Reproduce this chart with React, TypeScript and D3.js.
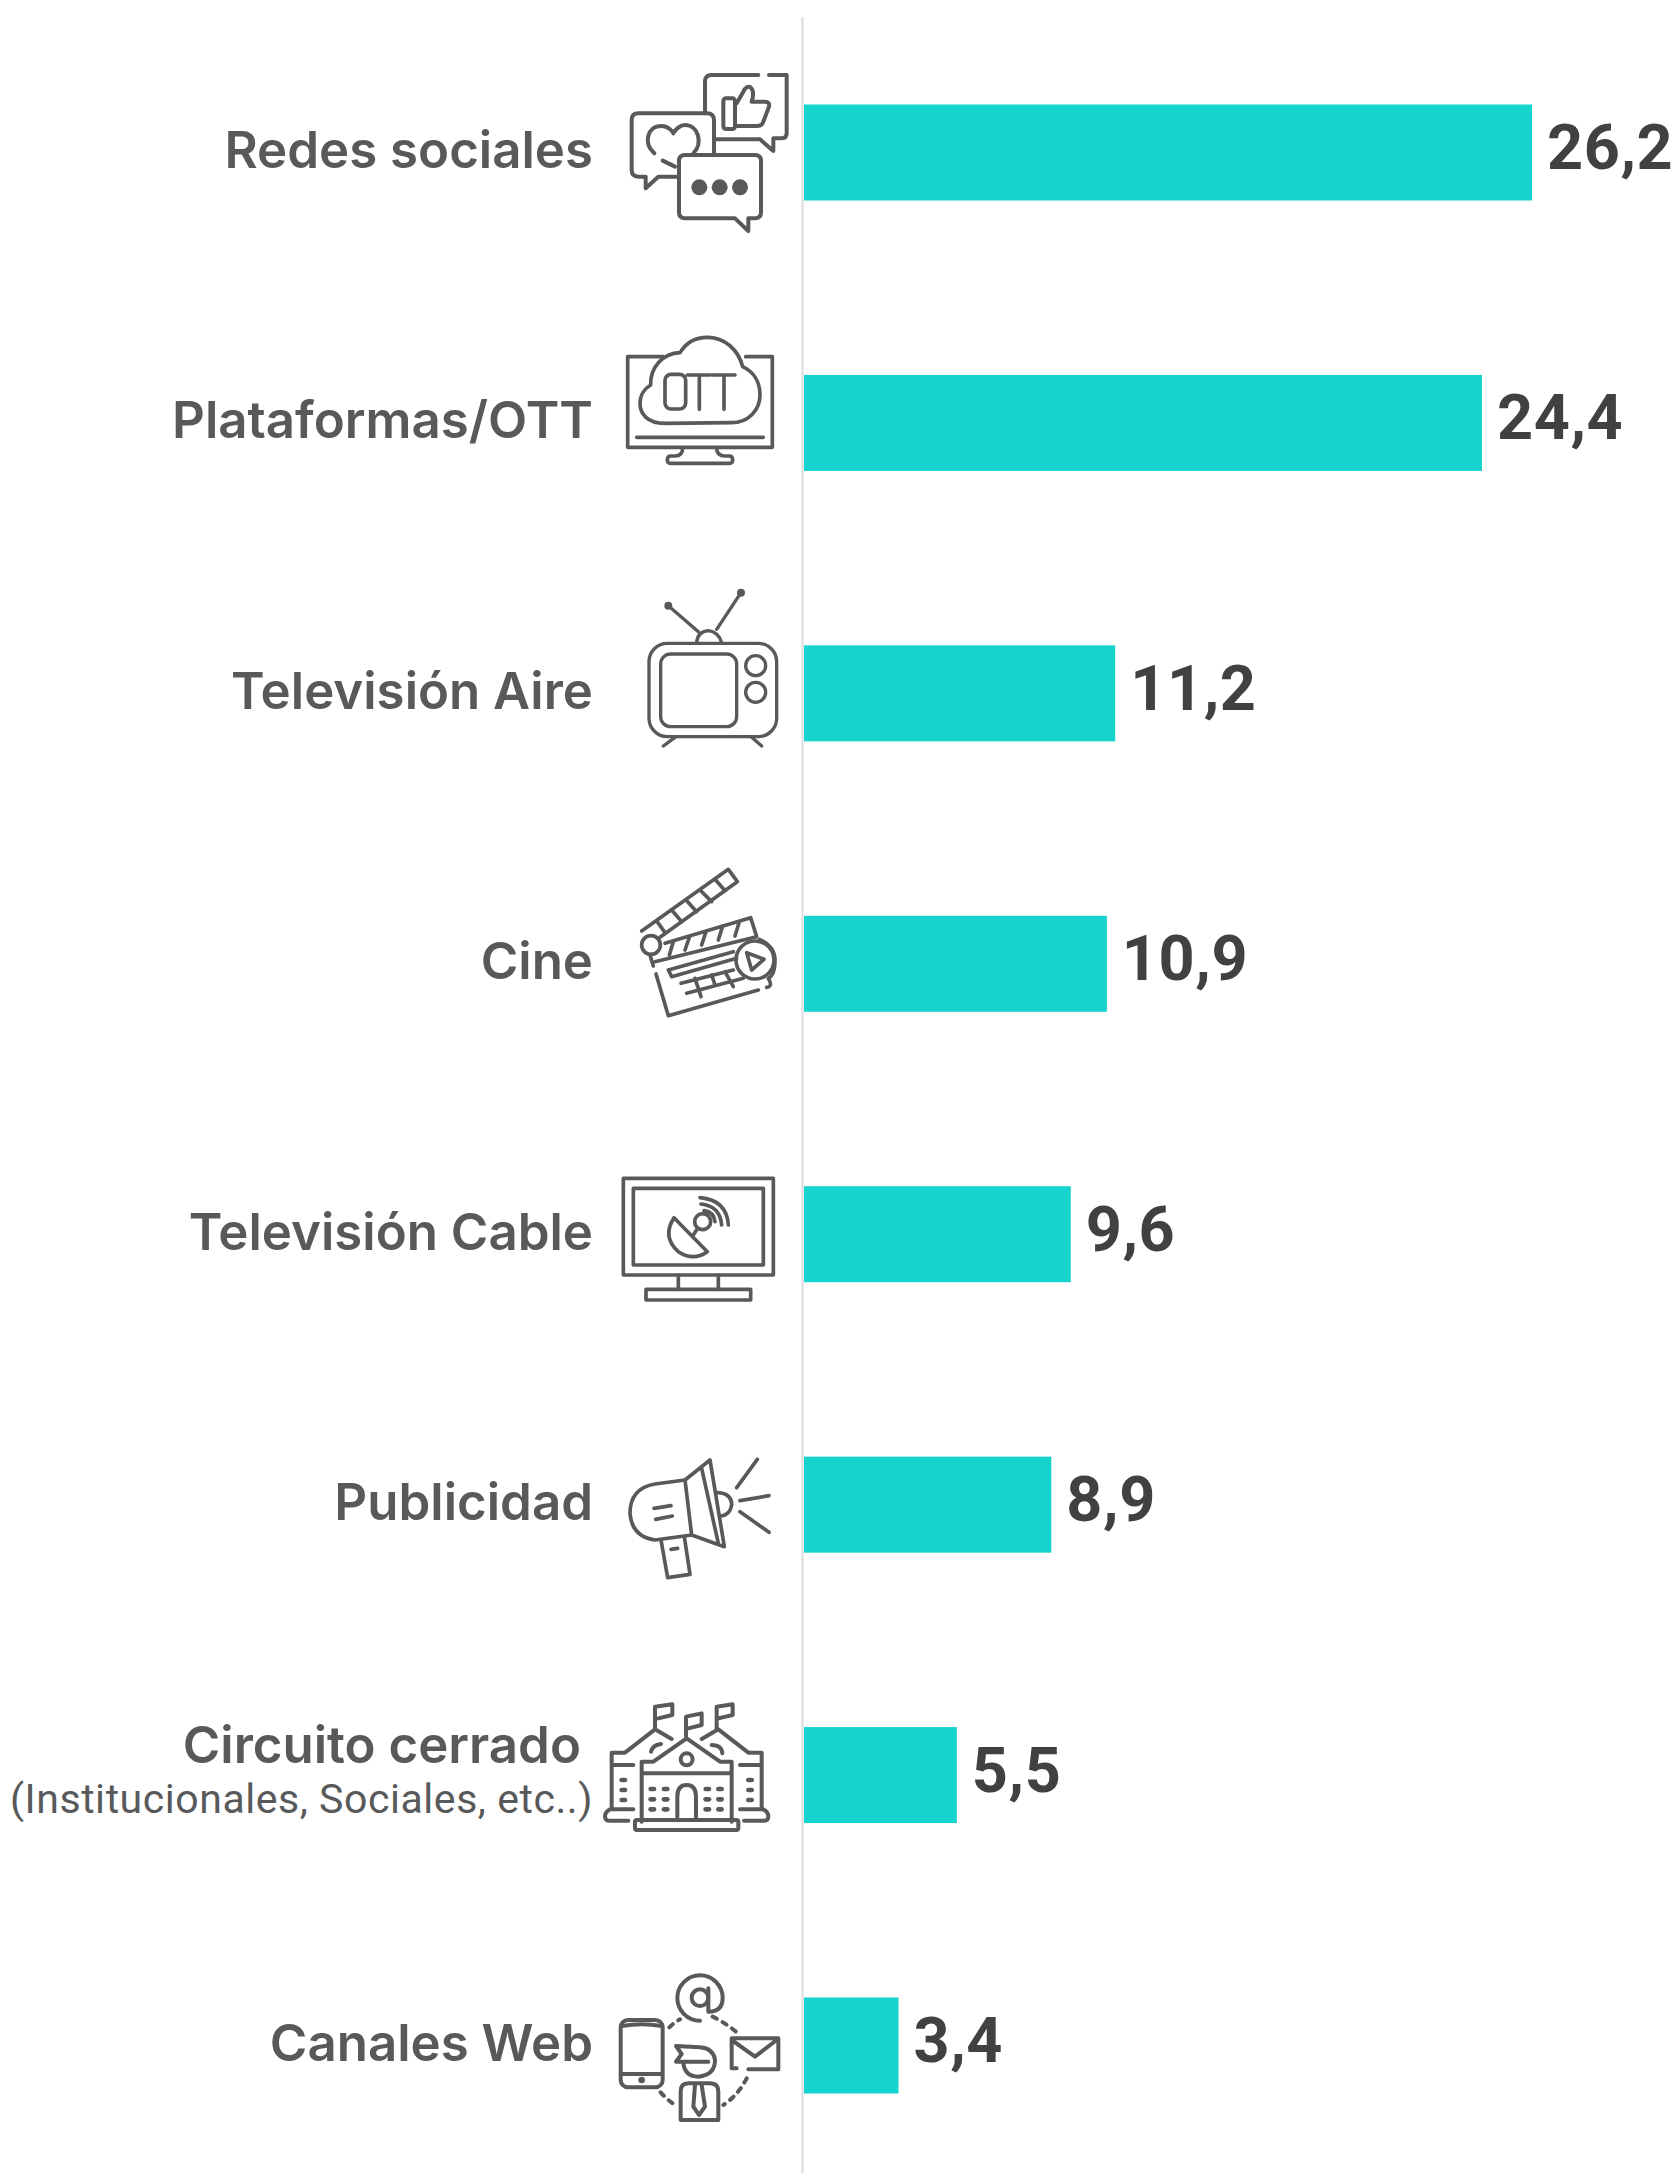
import React from 'react';
import * as d3 from 'd3';

const categories = ['Redes sociales', 'Plataformas/OTT', 'Televisión Aire', 'Cine', 'Televisión Cable', 'Publicidad', 'Circuito cerrado', 'Canales Web'];
const values = [26.2, 24.4, 11.2, 10.9, 9.6, 8.9, 5.5, 3.4];
const subLabels: Record<string, string> = { 'Circuito cerrado': '(Institucionales, Sociales, etc..)' };

const WIDTH = 1678;
const HEIGHT = 2173;
const GRAY = '#58595b';

const x = d3.scaleLinear().domain([0, 26.2]).range([804, 1532]);
const y = d3.scaleBand().domain(categories).range([104.5, 2093.5]).paddingInner(0.645).paddingOuter(0);
const fmt = d3.formatLocale({ decimal: ',', thousands: '.', grouping: [3], currency: ['', ''] }).format('.1f');

// icons are traced in 3x coordinates, so they get scaled down by the group
const Icon = ({ ox, oy, sw, children }: any) => (
  <g transform={`translate(${ox},${oy}) scale(${1 / 3})`} fill="none" stroke={GRAY} strokeWidth={sw} strokeLinecap="round" strokeLinejoin="round">
    {children}
  </g>
);

const SocialIcon = () => (
  <Icon ox={600} oy={50} sw={12}>
    <path d="M475 75H335Q315 75 315 95V190M507 75H560V250Q560 265 545 265H520V303L480 268H345" />
    <path d="M342 310V210Q342 190 320 190H115Q95 190 95 210V360Q95 380 115 380H137V415L175 380H235" />
    <path d="M255 315H465Q483 315 483 333V487Q483 505 465 505H445V543L405 505H255Q237 505 237 487V333Q237 315 255 315Z" />
    <circle cx={298} cy={412} r={24} fill={GRAY} stroke="none" />
    <circle cx={359} cy={412} r={24} fill={GRAY} stroke="none" />
    <circle cx={420} cy={412} r={24} fill={GRAY} stroke="none" />
    <path d="M163 310C130 280 140 228 185 228C205 228 218 245 220 250C225 240 240 225 255 225C295 225 310 280 280 310M188 332L225 350" />
    <rect x={370} y={145} width={35} height={92} rx={8} />
    <path d="M410 160L430 125Q440 105 452 112Q465 125 455 155H495Q510 155 507 170L490 215Q487 228 470 228H410" />
  </Icon>
);

const OttIcon = () => (
  <Icon ox={600} oy={320} sw={11}>
    <path d="M190 110H83V382H517V110H437M110 352H490" />
    <path d="M248 385Q248 408 225 408H212Q202 408 202 420Q202 430 212 430H388Q398 430 398 420Q398 408 388 408H375Q350 408 350 385" />
    <path d="M195 310C140 310 120 280 120 250C120 225 135 205 152 195C150 140 190 100 240 98C260 65 290 52 322 52C375 52 415 90 428 140C460 155 480 185 480 225C480 270 445 308 395 308Z" />
    <rect x={195} y={163} width={62} height={104} rx={18} />
    <path d="M262 165H332M298 165V268M338 165H405M372 165V268" />
  </Icon>
);

const TvIcon = () => (
  <Icon ox={600} oy={320} sw={10}>
    <rect x={147} y={970} width={383} height={280} rx={55} />
    <rect x={182} y={1002} width={228} height={218} rx={30} />
    <circle cx={467} cy={1037} r={30} />
    <circle cx={467} cy={1117} r={30} />
    <path d="M205 857L295 935M423 818L350 928M290 968Q292 935 325 932Q355 935 365 968M190 1278L225 1252M485 1278L455 1252" />
    <circle cx={205} cy={857} r={7} fill={GRAY} />
    <circle cx={423} cy={818} r={7} fill={GRAY} />
  </Icon>
);

const ClapIcon = () => (
  <Icon ox={600} oy={850} sw={11}>
    <path d="M125 243L385 58L412 95L180 262" />
    <path d="M170 213L195 248M215 180L245 215M258 150L290 185M300 120L335 155M345 88L375 122" />
    <circle cx={153} cy={285} r={28} />
    <path d="M195 280L452 203L470 260L165 335M208 315L220 275M255 300L268 262M305 285L318 245M355 270L368 228M405 258L418 215" />
    <path d="M150 315L160 348M168 372L205 497L475 420" />
    <path d="M478 268Q525 290 525 330Q525 375 505 385Q520 410 500 412" />
    <circle cx={465} cy={330} r={57} />
    <path d="M440 308L492 328L455 360Z" />
    <path d="M205 360L400 305M215 380L410 325M205 360L215 380M243 400L400 360M260 430L430 385M285 385L303 440M335 375L345 405M375 365L400 410" />
  </Icon>
);

const CableIcon = () => (
  <Icon ox={600} oy={850} sw={11}>
    <rect x={70} y={985} width={450} height={290} />
    <rect x={100} y={1015} width={390} height={230} />
    <path d="M235 1275V1318M355 1275V1318" />
    <rect x={138} y={1318} width={314} height={32} />
    <path d="M222 1103L322 1205Q280 1235 235 1205Q185 1160 222 1103Z" />
    <circle cx={308} cy={1115} r={24} />
    <path d="M280 1155L293 1135M300 1043Q380 1050 385 1125M303 1062Q360 1068 365 1125M312 1082Q342 1086 345 1115" />
  </Icon>
);

const MegaphoneIcon = () => (
  <Icon ox={590} oy={1440} sw={11}>
    <path d="M285 120L195 132Q120 145 120 220Q125 290 195 300L305 285" />
    <path d="M285 120L360 60L403 320L305 285ZM335 85L385 310" />
    <path d="M383 158Q425 160 425 195Q420 225 393 228" />
    <path d="M440 143L502 58M450 182L537 167M450 215L537 277" />
    <path d="M192 205L243 197M197 238L247 228" />
    <path d="M213 300L233 413L300 403L283 290M243 328L263 325" />
  </Icon>
);

const BuildingIcon = () => {
  const dots: [number, number][] = [];
  [187, 227, 352, 390].forEach(dx => [1047, 1078, 1108].forEach(dy => dots.push([dx, dy])));
  [100, 480].forEach(dx => [1020, 1050, 1080].forEach(dy => dots.push([dx, dy])));
  return (
    <Icon ox={590} oy={1440} sw={12}>
      <path d="M155 1145V965H190L290 895L390 965H425V1145M155 1000H425" />
      <rect x={135} y={1140} width={310} height={30} rx={6} />
      <circle cx={290} cy={958} r={18} />
      <path d="M262 1130V1070Q262 1035 290 1035Q318 1035 318 1070V1130" />
      <path d="M130 975H65V1105M65 938H105L195 868L245 897M65 938V975" />
      <path d="M335 897L385 868L475 938H515V1105M450 975H515" />
      <path d="M130 1108H60Q45 1115 45 1130Q45 1142 60 1142H115M450 1108H520Q535 1115 535 1130Q535 1142 520 1142H462" />
      <path d="M195 868V800L247 793V825L205 835M288 895V830L335 820V855L295 865M380 868V800L428 793V825L385 835" />
      <path d="M183 935Q188 915 213 912M365 915Q395 915 397 940" />
      {dots.map(([dx, dy]) => <path key={`${dx}-${dy}`} d={`M${dx - 5} ${dy}H${dx + 5}`} strokeWidth={14} />)}
    </Icon>
  );
};

const WebIcon = () => (
  <Icon ox={590} oy={1950} sw={12}>
    <rect x={92} y={210} width={126} height={202} rx={22} />
    <path d="M95 228Q155 218 215 228M95 372H215" />
    <circle cx={155} cy={390} r={4} fill={GRAY} />
    <path d="M330 212A68 68 0 1 1 398 143Q398 185 355 185V115" />
    <circle cx={330} cy={143} r={25} />
    <path d="M238 232Q252 218 270 208M368 200Q405 218 438 245M470 385Q445 435 400 465M212 427Q230 448 255 465" strokeDasharray="14 20" />
    <path d="M440 355H425V265H565V358H475M425 270L495 320L560 270" />
    <path d="M280 340Q285 380 325 380Q375 375 375 330Q370 295 330 292L258 288L275 312L258 335H355" />
    <path d="M272 510V425Q272 400 295 400H360Q385 400 385 425V510ZM315 405L310 470L327 495L345 470L335 405" />
  </Icon>
);

const icons = [SocialIcon, OttIcon, TvIcon, ClapIcon, CableIcon, MegaphoneIcon, BuildingIcon, WebIcon];

const App = () => (
  <svg width={WIDTH} height={HEIGHT} style={{ position: 'absolute', left: 0, top: 0, display: 'block' }}>
    <line x1={802.5} x2={802.5} y1={17} y2={HEIGHT} stroke="#dcdcdc" strokeWidth={2} />
    {categories.map((cat, i) => {
      const by = y(cat) as number;
      const bh = y.bandwidth();
      const sub = subLabels[cat];
      const CatIcon = icons[i];
      return (
        <g key={cat}>
          <rect x={x(0)} y={by} width={x(values[i]) - x(0)} height={bh} fill="#17d3cd" />
          <text x={x(values[i]) + 15} y={by + bh / 2 + 16.5} fontFamily="Roboto" fontWeight={700} fontSize={63} letterSpacing={0.6} fill="#414042">
            {fmt(values[i])}
          </text>
          {sub ? (
            <>
              <text x={581} y={by + 36} textAnchor="end" fontFamily="Inter" fontWeight={600} fontSize={51} fill={GRAY}>{cat}</text>
              <text x={593} y={by + 86} textAnchor="end" fontFamily="Roboto" fontWeight={400} fontSize={41} letterSpacing={0.55} fill={GRAY}>{sub}</text>
            </>
          ) : (
            <text x={593} y={by + bh / 2 + 15.5} textAnchor="end" fontFamily="Inter" fontWeight={600} fontSize={51} fill={GRAY}>{cat}</text>
          )}
          <CatIcon />
        </g>
      );
    })}
  </svg>
);

export default App;
